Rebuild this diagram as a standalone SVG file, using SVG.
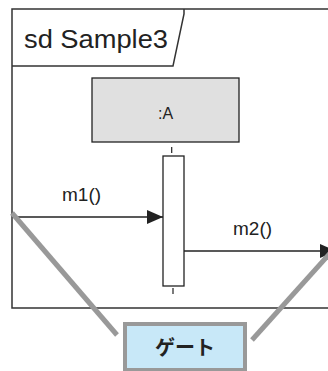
<svg xmlns="http://www.w3.org/2000/svg" width="328" height="371" viewBox="0 0 328 371">
  <style>
    .frame { fill: none; stroke: #333; stroke-width: 1.5; }
    .lbl { font-family: "Liberation Sans", Arial, sans-serif; fill: #222; }
    .msg { fill: none; stroke: #222; stroke-width: 1.3; }
    .life { stroke: #222; stroke-width: 1.2; }
    .pointer { stroke: #999; stroke-width: 5; fill: none; }
  </style>
  <defs>
    <marker id="head" markerWidth="16" markerHeight="14" refX="16" refY="7" orient="auto" markerUnits="userSpaceOnUse">
      <path d="M0,0 L16,7 L0,14 Z" fill="#222"/>
    </marker>
  </defs>

  <!-- sequence diagram frame (right edge runs past the canvas) -->
  <g id="frame">
    <path class="frame" d="M340,9 L12,9 L12,308 L340,308"/>
    <path class="frame" d="M184,9 L184,14 L173,66 L12,66"/>
    <text class="lbl" x="24" y="48" font-size="25" textLength="144" lengthAdjust="spacingAndGlyphs">sd Sample3</text>
  </g>

  <!-- lifeline A -->
  <g id="lifeline-A">
    <rect x="92" y="78" width="147" height="64" fill="#e0e0e0" stroke="#222" stroke-width="1.3"/>
    <text class="lbl" x="165.5" y="119" font-size="16" text-anchor="middle">:A</text>
    <line class="life" x1="171.7" y1="147" x2="171.7" y2="153"/>
    <rect x="163" y="156" width="21" height="130" fill="#fff" stroke="#222" stroke-width="1.3"/>
    <line class="life" x1="173" y1="288" x2="173" y2="294"/>
  </g>

  <!-- messages -->
  <g id="connectors">
    <line class="msg" x1="12" y1="217" x2="163" y2="217" marker-end="url(#head)"/>
    <text class="lbl" x="62" y="201" font-size="19">m1()</text>
    <line class="msg" x1="184" y1="251" x2="336" y2="251" marker-end="url(#head)"/>
    <text class="lbl" x="233" y="235" font-size="19">m2()</text>
    <!-- callout pointers to the gates -->
    <line class="pointer" x1="12" y1="213" x2="117" y2="335"/>
    <line class="pointer" x1="332" y1="251" x2="252" y2="340"/>
  </g>

  <!-- callout label -->
  <g id="gate-label">
    <rect x="125" y="324" width="120" height="46" fill="#c8e8f8" stroke="#999" stroke-width="4"/>
    <text x="185" y="355" font-size="20" font-weight="bold" text-anchor="middle" fill="#222" font-family="'Noto Sans CJK JP', sans-serif">ゲート</text>
  </g>
</svg>
